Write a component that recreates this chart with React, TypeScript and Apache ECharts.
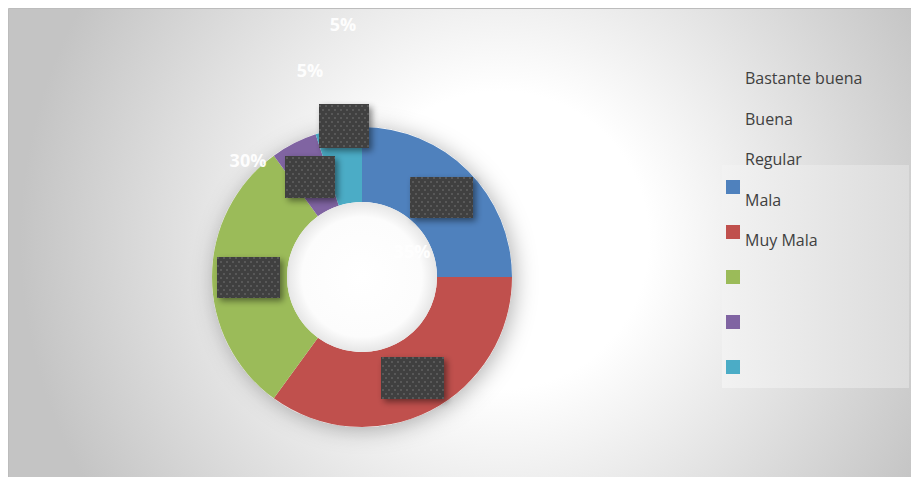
import React, { useEffect, useRef } from "react";
import * as echarts from "echarts";

const categories = ["Bastante buena", "Buena", "Regular", "Mala", "Muy Mala"];
const values = [25, 35, 30, 5, 5];
const colors = ["#4f81bd", "#c0504d", "#9bbb59", "#8064a2", "#4bacc6"];

function makePattern(): string {
  const c = document.createElement("canvas");
  c.width = 6;
  c.height = 8;
  const ctx = c.getContext("2d")!;
  ctx.fillStyle = "#404040";
  ctx.fillRect(0, 0, 6, 8);
  ctx.fillStyle = "#585858";
  ctx.fillRect(1, 1, 2, 2);
  ctx.fillRect(4, 5, 2, 2);
  return c.toDataURL();
}

export default function App() {
  const ref = useRef<HTMLDivElement>(null);
  useEffect(() => {
    document.body.style.margin = "0";
    const chart = echarts.init(ref.current!, undefined, { renderer: "svg" });
    const pat = makePattern();
    const boxes = [
      [319, 104, 50, 44],
      [285, 156, 50, 42],
      [410, 177, 63, 41],
      [217, 257, 63, 41],
      [381, 357, 63, 42],
    ];
    const boxEls: any[] = [];
    boxes.forEach(([x, y, w, h]) => {
      boxEls.push({
        type: "rect",
        z: 20,
        shape: { x, y, width: w, height: h },
        style: {
          fill: "#404040",
          shadowBlur: 6,
          shadowOffsetX: 3,
          shadowOffsetY: 3,
          shadowColor: "rgba(0,0,0,0.45)",
        },
      });
      boxEls.push({
        type: "rect",
        z: 21,
        shape: { x, y, width: w, height: h },
        style: {
          fill: { image: pat, repeat: "repeat", imageWidth: 6, imageHeight: 8 } as any,
        },
      });
    });
    // label placements: [index, x, y]
    const labelPos: [number, number, number][] = [
      [4, 343, 24],
      [3, 310, 70],
      [2, 248, 160],
      [1, 412, 251],
    ];
    const labelEls = labelPos.map(([i, x, y]) => ({
      type: "text",
      z: 15,
      x,
      y,
      style: {
        text: `${values[i]}%`,
        fill: "rgba(255,255,255,0.95)",
        font: "bold 18px 'Open Sans'",
        align: "center",
        verticalAlign: "middle",
      },
    }));

    chart.setOption({
      animation: false,
      graphic: {
        elements: [
          {
            type: "rect",
            z: -10,
            shape: { x: 8.5, y: 8.5, width: 920, height: 490 },
            style: {
              fill: {
                type: "radial",
                x: 500,
                y: 240,
                r: 480,
                global: true,
                colorStops: [
                  { offset: 0, color: "#ffffff" },
                  { offset: 0.31, color: "#ffffff" },
                  { offset: 1, color: "#c4c4c4" },
                ],
              } as any,
              stroke: "#bcbcbc",
              lineWidth: 1,
            },
          },
          {
            type: "rect",
            z: -9,
            shape: { x: 722, y: 165, width: 187, height: 223 },
            style: {
              fill: {
                type: "linear",
                x: 0,
                y: 0,
                x2: 1,
                y2: 0,
                colorStops: [
                  { offset: 0, color: "#f2f2f2" },
                  { offset: 1, color: "#dcdcdc" },
                ],
              } as any,
            },
          },
          {
            type: "circle",
            z: -5,
            shape: { cx: 362, cy: 277, r: 150 },
            style: {
              fill: "#ffffff",
              shadowBlur: 22,
              shadowOffsetX: 3,
              shadowOffsetY: 3,
              shadowColor: "rgba(0,0,0,0.3)",
            },
          },
          {
            type: "circle",
            z: 5,
            shape: { cx: 362, cy: 277, r: 75 },
            style: {
              fill: {
                type: "radial",
                x: 0.5,
                y: 0.5,
                r: 0.5,
                colorStops: [
                  { offset: 0, color: "#ffffff" },
                  { offset: 0.8, color: "#fcfcfc" },
                  { offset: 1, color: "#e6e6e6" },
                ],
              } as any,
            },
          },
          ...labelEls,
          ...boxEls,
        ],
      },
      legend: [
        {
          orient: "vertical",
          left: 740,
          top: 68,
          padding: 0,
          icon: "none",
          itemWidth: 0,
          itemHeight: 20,
          itemGap: 20.5,
          selectedMode: false,
          data: categories,
          textStyle: {
            color: "#404040",
            fontSize: 16,
            lineHeight: 20,
            fontFamily: "'Open Sans'",
          },
        },
        {
          orient: "vertical",
          left: 726,
          top: 180,
          padding: 0,
          icon: "rect",
          itemWidth: 14,
          itemHeight: 14,
          itemGap: 31,
          selectedMode: false,
          data: categories,
          formatter: () => "",
          itemStyle: { shadowBlur: 0, shadowColor: "transparent" },
          textStyle: { fontSize: 10, lineHeight: 14 },
        },
      ],
      series: [
        {
          type: "pie",
          z: 2,
          center: [362, 277],
          radius: [75, 150],
          startAngle: 90,
          clockwise: true,
          silent: true,
          label: { show: false },
          labelLine: { show: false },
          itemStyle: { borderWidth: 0 },
          data: categories.map((name, i) => ({
            name,
            value: values[i],
            itemStyle: { color: colors[i] },
          })),
        },
      ],
    });
    return () => chart.dispose();
  }, []);
  return <div ref={ref} style={{ width: 911, height: 477 }} />;
}
